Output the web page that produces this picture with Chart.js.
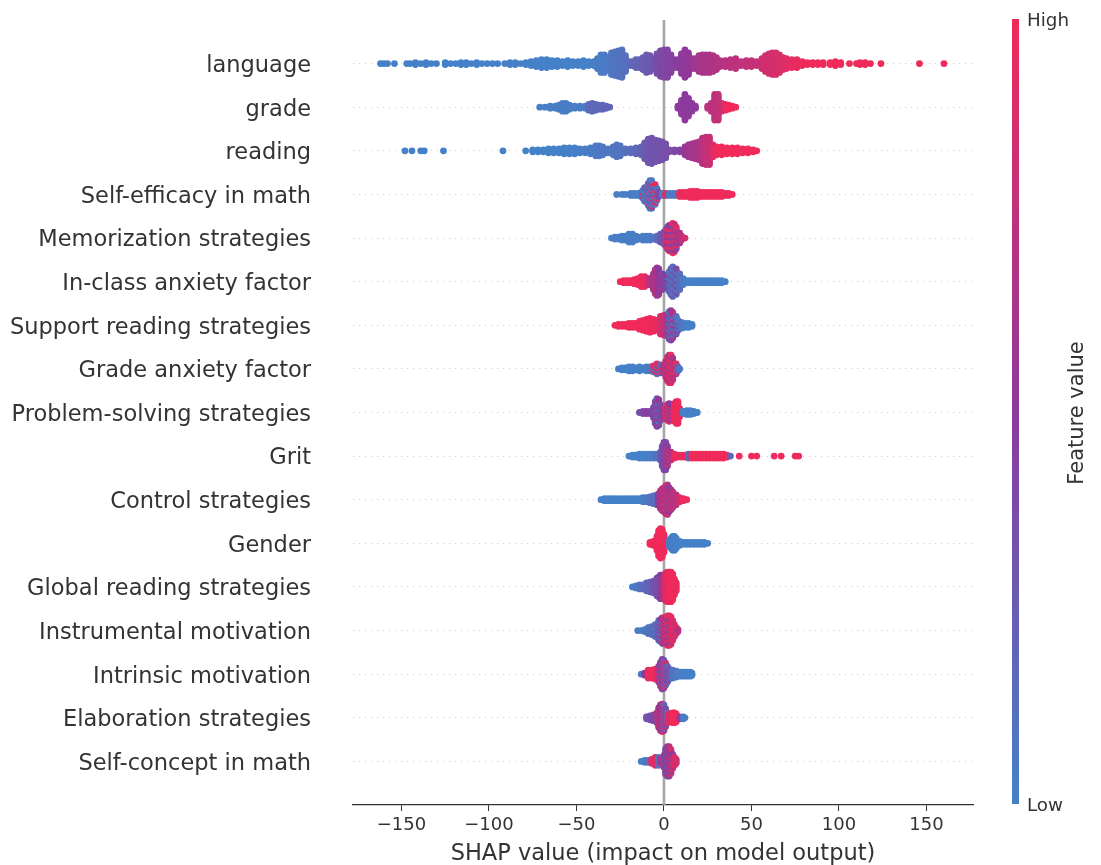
<!DOCTYPE html>
<html lang="en">
<head>
    <meta charset="UTF-8">
    <title>SHAP summary plot</title>
    <script src="https://cdn.jsdelivr.net/npm/chart.js"></script>
    <style>
        body {
            margin: 0;
            background-color: #ffffff;
        }
        canvas {
            display: block;
            filter: blur(0.7px);
        }
    </style>
</head>
<body>
<canvas id="shapChart" width="1101" height="865"></canvas>

<script>
    // top of the plot first
    const features = [
        "language", "grade", "reading", "Self-efficacy in math", "Memorization strategies",
        "In-class anxiety factor", "Support reading strategies", "Grade anxiety factor",
        "Problem-solving strategies", "Grit", "Control strategies", "Gender",
        "Global reading strategies", "Instrumental motivation", "Intrinsic motivation",
        "Elaboration strategies", "Self-concept in math"
    ];
    const xTicks = [-150, -100, -50, 0, 50, 100, 150];

    // every bin: [shap value, number of dots, feature value(s) 0..1]
    const language = [
        [-162,1,0],[-160,1,0],[-158,1,0],[-154,1,0],[-147,1,0],[-145,1,0],[-142,2,0],[-139,1,0],[-136,2,0],[-133,1,0],[-130,1,0],
        [-125,2,0],[-122,1,0],[-119,1,0],[-116,2,0],[-113,2,0],[-110,1,0],[-107,2,0],[-104,1,0],[-101,1,0],[-98,1,0],[-95,1,0],
        [-91,1,0],[-88,2,0],[-85,2,0],[-82,1,0],[-79,2,0],[-76,3,0],[-73,4,0],[-70,5,0],[-67,5,0],[-64,4,0],[-61,4,0],[-58,3,0],
        [-55,4,0],[-52,3,0],[-49,3,0],[-46,4,0],[-43,3,0],[-40,3,.02],[-38,6,.03],[-36,10,.03],[-34,10,.05],[-32,7,.05],
        [-30,12,.07],[-28,13,.08],[-26,14,.1],[-24,15,.1],[-22,9,.12],[-20,3,.15],[-18,3,.18],[-16,5,.2],[-14,5,.22],[-12,7,.25],
        [-10,10,.26],[-8,9,.28],[-6,6,.3],[-4,11,.36],[-2,14,.4],[0,15,.4],[2,15,.42],[4,10,.44],[6,5,.46],[8,5,.48],[10,11,.5],
        [12,15,.52],[14,12,.52],[16,6,.56],[18,6,.6],[20,9,.62],[22,10,.64],[24,10,.64],[26,10,.66],[28,9,.68],[30,7,.68],
        [32,4,.7],[35,4,.72],[38,5,.74],[41,6,.74],[44,3,.76],[47,4,.76],[50,4,.78],[53,3,.78],[56,6,.82],[58,9,.84],[60,11,.84],
        [62,12,.85],[64,12,.86],[66,10,.88],[68,7,.9],[70,6,.92],[73,5,.95],[76,5,.96],[79,3,.98],[82,2,1],[85,2,1],[88,2,1],
        [91,2,1],[95,2,1],[98,3,1],[101,2,1],[106,1,1],[110,1,1],[112,2,1],[115,2,1],[118,1,1],[124,1,1],[146,1,1],[160,1,1]
    ];
    const grade = [
        [-71,1,.02],[-68,1,.02],[-65,2,.02],[-62,2,.02],[-60,3,.02],[-58,5,.02],[-56,5,.03],[-54,3,.03],[-51,2,.03],[-48,2,.03],[-45,2,.05],
        [-43,4,.16],[-41,5,.18],[-39,4,.18],[-37,3,.18],[-35,3,.2],[-33,2,.2],[-31,1,.2],
        [8,2,.5],[10,8,.5],[12,14,.5],[14,10,.5],[16,5,.5],[18,2,.5],
        [25,2,.74],[27,5,.74],[29,14,.74],[31,14,.76],[33,5,.8],[35,4,.95],[37,3,1],[39,2,1],[41,1,1]
    ];
    const reading = [
        [-148,1,0],[-144,1,0],[-139,1,0],[-137,1,0],[-126,1,0],[-92,1,0],[-79,1,0],
        [-75,2,0],[-72,2,0],[-69,2,0],[-66,3,0],[-63,3,0],[-60,3,0],[-57,4,0],[-54,4,0],[-51,4,0],[-48,3,.02],[-45,3,.02],[-42,4,.04],
        [-39,6,.05],[-37,6,.06],[-35,5,.06],[-32,3,.07],[-29,5,.08],[-27,7,.09],[-25,6,.1],[-22,3,.12],[-19,3,.14],[-16,4,.18],[-13,5,.22],
        [-11,9,.26],[-9,13,.3],[-7,14,.32],[-5,12,.32],[-3,11,.32],[-1,10,.34],[1,8,.34],[3,2,.36],[6,2,.4],[9,2,.44],[12,5,.56],[14,7,.6],
        [16,8,.62],[18,9,.64],[20,10,.66],[22,14,.72],[24,15,.76],[26,15,.8],[28,7,.9],[30,5,.98],[33,5,1],[36,4,1],[39,4,1],[42,4,1],
        [45,3,1],[48,3,1],[51,2,1],[53,1,1]
    ];
    const selfEfficacy = [
        [-27,1,.02],[-24,1,.02],[-22,1,.02],[-19,2,.02],[-17,2,.02],[-15,2,.02],[-13,3,.05],[-12,5,[.05,.9]],[-11,8,[.1,.2,.05]],[-9,12,[.05,.98,.2]],
        [-8,15,[.05,.3,.1]],[-7,15,[.1,.9,.05,.3]],[-5,11,[.05,.98,.3]],[-4,7,[.1,.95]],[-3,3,.4],[-1,2,.05],[1,2,.9],[3,2,.05],[5,2,.05],[7,2,.05],
        [9,3,.98],[11,3,.98],[13,3,.98],[15,4,1],[17,4,1],[19,4,1],[21,3,1],[23,3,1],[25,3,1],[27,3,1],[29,3,1],[31,3,1],[33,3,1],[35,2,1],[37,2,1],[39,1,1]
    ];
    const memorization = [
        [-30,1,.02],[-28,2,.02],[-26,2,.02],[-24,3,.02],[-22,3,.02],[-20,5,.02],[-18,5,.03],[-16,3,.03],[-14,2,.03],[-12,3,.03],[-10,3,.03],[-8,3,.05],[-6,2,.06],
        [-4,3,.15],[-2,5,.28],[0,7,.35],[1,9,[.3,.9]],[2,12,[.5,.95,.4]],[3,14,[.9,.5,.95]],[5,16,[.95,.6,.3]],[6,15,[.95,.5,.8]],[7,12,[.6,.4,.9]],[9,6,[.55,.7]],[10,3,.75],[12,1,.85]
    ];
    const inClass = [
        [-25,1,1],[-23,2,1],[-21,2,1],[-19,2,1],[-17,3,1],[-15,4,1],[-13,6,.98],[-11,6,.95],[-9,4,.8],[-7,5,.7],
        [-6,9,.6],[-5,13,[.6,.75]],[-4,15,[.55,.8,.6]],[-3,14,[.6,.5]],[-1,9,[.5,.7,.4]],[1,8,[.3,.5]],[3,11,[.2,.05,.5]],[4,14,[.05,.3,.2]],[5,16,[.15,.35,.05]],[7,14,[.08,.4,.2]],[9,9,.15],[11,4,.05],
        [13,2,0],[15,2,0],[17,2,0],[19,2,0],[21,2,0],[23,2,0],[25,2,0],[27,2,0],[29,2,0],[31,2,0],[33,2,0],[35,1,0]
    ];
    const supportReading = [
        [-28,1,1],[-26,2,1],[-24,2,1],[-22,2,1],[-20,3,1],[-18,3,1],[-16,3,1],[-14,5,1],[-12,6,1],[-10,7,1],[-8,8,1],[-6,7,1],
        [-4,6,.95],[-2,10,.85],[0,11,.8],[1,10,.75],[2,12,[.6,.7]],[3,15,[.4,.55,.1]],[4,16,[.45,.3,.1]],[5,14,[.4,.7,.05]],[7,10,[.4,.15]],[8,6,[.35,.05]],[10,4,.1],
        [12,3,.02],[14,3,0],[16,2,0]
    ];
    const gradeAnxiety = [
        [-26,1,0],[-24,2,0],[-22,2,0],[-20,3,0],[-18,3,0],[-16,2,0],[-14,3,0],[-12,2,.02],[-10,3,.03],[-8,3,.05],
        [-6,4,[.1,.95]],[-4,6,[.15,.9]],[-2,5,[.2,.95]],[0,5,.6],[1,9,[.9,.7]],[2,13,[.95,.7,.5]],[3,15,[.95,.75,.55]],[4,15,[.9,.7,1]],[5,12,[.9,.65]],[7,6,[.7,.95]],[8,3,.2],[9,1,.05]
    ];
    const problemSolving = [
        [-14,1,.35],[-12,2,.4],[-10,2,.45],[-8,2,.45],[-6,6,.4],[-5,12,[.45,.3]],[-4,15,[.45,.6,.25]],[-3,14,[.35,.55,.1]],[-2,9,.4],[0,5,.5],[1,7,.85],
        [2,9,[.95,.6]],[3,10,[.9,.5]],[5,5,[.6,.9]],[6,10,1],[7,12,[1,.9]],[8,12,1],[9,5,.98],[11,2,0],[13,3,0],[15,3,0],[17,2,0],[19,1,0]
    ];
    const grit = [
        [-20,1,0],[-18,2,0],[-16,2,0],[-14,3,0],[-12,3,0],[-10,3,0],[-8,3,.02],[-6,3,.05],[-4,3,.1],[-2,5,.25],[-1,11,.35],[0,15,.4],[1,15,.42],[2,11,[.45,.8]],
        [4,5,.7],[6,3,.95],[8,2,1],[10,2,1],[12,2,.95],[14,3,.2],[16,3,1],[18,3,1],[20,3,1],[22,3,1],[24,3,1],[26,3,1],[28,3,1],[30,3,1],[32,3,1],[34,3,1],[36,2,1],[38,1,.2],
        [43,1,1],[50,1,1],[53,1,1],[63,1,1],[67,1,1],[75,1,1],[77,1,1]
    ];
    const control = [
        [-36,1,0],[-34,2,0],[-32,2,0],[-30,2,0],[-28,2,0],[-26,2,0],[-24,2,0],[-22,2,0],[-20,2,0],[-18,2,0],[-16,2,0],[-14,2,0],[-12,3,.02],[-10,3,.05],[-8,4,.1],[-6,5,.15],[-4,6,.15],
        [-3,7,.5],[-2,10,[.55,.75]],[-1,12,[.6,.8]],[0,13,[.7,.9,.5]],[1,15,[.75,.5,.95]],[2,16,[.7,.9,.45]],[3,13,[.5,.8]],[4,11,[.6,.85]],[5,9,.7],[7,6,.75],[9,3,.85],[11,2,1],[13,1,1]
    ];
    const gender = [
        [-8,2,1],[-6,3,1],[-4,8,1],[-3,14,1],[-2,16,1],[-1,15,1],[0,10,1],
        [3,4,.05],[4,6,.02],[5,8,.02],[6,8,.02],[7,6,0],[9,3,0],[11,2,0],[13,2,0],[15,2,0],[17,2,0],[19,2,0],[21,2,0],[23,2,0],[25,1,0]
    ];
    const globalReading = [
        [-18,1,.02],[-16,2,.05],[-14,3,.1],[-12,3,.15],[-10,5,.18],[-8,6,.22],[-6,7,.3],[-4,10,.35],[-3,11,[.4,.25]],[-2,13,[.45,.6]],[-1,13,[.5,.7]],[0,11,[.55,.8]],
        [1,15,.9],[2,16,[1,.85]],[3,16,[1,.95]],[4,16,1],[5,14,1],[6,9,1],[7,5,.95]
    ];
    const instrumental = [
        [-15,1,.02],[-13,1,.02],[-11,2,.05],[-9,4,.1],[-7,5,.12],[-5,7,.15],[-3,11,[.15,.4]],[-2,12,[.1,.5]],[-1,14,[.3,.6,.1]],[0,14,[.5,.9]],
        [1,14,[.95,.6]],[2,16,[.95,.5,1]],[3,16,[.9,.6,.4]],[4,15,[.95,.7]],[5,11,.9],[6,7,.85],[7,4,.9],[8,2,.7]
    ];
    const intrinsic = [
        [-13,1,.05],[-11,2,.5],[-9,5,.95],[-7,5,1],[-5,6,.95],[-3,9,[.5,.9]],[-2,13,[.45,.95,.3]],[-1,16,[.45,.6,.35]],[0,15,[.4,.9,.3]],[1,12,[.25,.85]],[2,9,[.2,.5]],[3,6,.3],[5,5,.1],
        [7,4,.05],[9,3,.02],[11,3,.02],[13,3,0],[15,3,0],[16,2,0]
    ];
    const elaboration = [
        [-10,2,.3],[-8,3,.35],[-6,4,.4],[-4,6,[.4,.7]],[-3,11,[.6,.8]],[-2,14,[.7,.5]],[-1,15,[.85,.55]],[0,14,[.75,.2]],[1,10,[.7,.35]],[2,6,[.85,.1]],[3,5,.9],[5,6,1],[6,6,1],[7,5,1],[9,2,.6],[11,2,.05],[12,1,.02]
    ];
    const selfConcept = [
        [-13,1,0],[-11,2,.02],[-9,2,.1],[-7,3,.95],[-5,5,.9],[-3,5,.1],[-2,3,.7],[0,7,[.7,.3]],[1,14,[.5,.35]],[2,16,[.45,.55,.3]],[3,16,[.4,.7]],[4,13,[.85,.45]],[5,8,[.9,.5]],[6,5,.9],[7,3,.85]
    ];
    const rows = [
        language, grade, reading, selfEfficacy, memorization, inClass, supportReading, gradeAnxiety,
        problemSolving, grit, control, gender, globalReading, instrumental, intrinsic, elaboration, selfConcept
    ];

    const colorStops = [[69, 129, 200], [140, 58, 156], [240, 42, 90]];

    function valueColor(v) {
        const t = v * 2;
        const i = t >= 1 ? 1 : 0;
        const f = t - i;
        const c = colorStops[i].map((a, k) => Math.round(a + (colorStops[i + 1][k] - a) * f));
        return `rgb(${c[0]},${c[1]},${c[2]})`;
    }

    // stack the dots of every bin around its row, like the beeswarm does
    const DOT_STEP = 0.045;
    const dots = [];
    const dotColors = [];
    rows.forEach((bins, r) => {
        const rowY = features.length - 1 - r;
        bins.forEach(([x, n, c]) => {
            for (let k = 0; k < n; k++) {
                const level = k - (n - 1) / 2;
                dots.push({ x, y: rowY + level * DOT_STEP });
                dotColors.push(valueColor(Array.isArray(c) ? c[k % c.length] : c));
            }
        });
    });

    // colour bar with its labels, to the right of the axes
    const colorBar = {
        id: "colorBar",
        afterDraw(chart) {
            const ctx = chart.ctx;
            const grad = ctx.createLinearGradient(0, 19, 0, 804);
            grad.addColorStop(0, valueColor(1));
            grad.addColorStop(0.5, valueColor(0.5));
            grad.addColorStop(1, valueColor(0));
            ctx.save();
            ctx.fillStyle = grad;
            ctx.fillRect(1012, 19, 7, 785);
            ctx.fillStyle = "#333333";
            ctx.font = '18.3px "DejaVu Sans"';
            ctx.textBaseline = "middle";
            ctx.textAlign = "left";
            ctx.fillText("High", 1027, 21);
            ctx.fillText("Low", 1027, 806);
            ctx.translate(1078, 413);
            ctx.rotate(-Math.PI / 2);
            ctx.textAlign = "center";
            ctx.font = '21px "DejaVu Sans"';
            ctx.fillText("Feature value", 0, 0);
            ctx.restore();
        }
    };

    new Chart(document.getElementById("shapChart").getContext("2d"), {
        type: "scatter",
        data: {
            datasets: [
                {
                    label: "SHAP",
                    data: dots,
                    pointRadius: 3.4,
                    pointHoverRadius: 3.4,
                    pointBorderWidth: 0,
                    pointBackgroundColor: dotColors,
                    order: 1
                },
                {
                    label: "zero",
                    data: [{ x: 0, y: -1 }, { x: 0, y: 17 }],
                    showLine: true,
                    borderColor: "#a6a6a6",
                    borderWidth: 2.6,
                    pointRadius: 0,
                    order: 2
                }
            ]
        },
        options: {
            responsive: false,
            animation: false,
            layout: { padding: { top: 20, right: 128, bottom: 0, left: 0 } },
            plugins: {
                legend: { display: false },
                tooltip: { enabled: false }
            },
            scales: {
                x: {
                    type: "linear",
                    min: -177.7,
                    max: 176.6,
                    afterBuildTicks: (scale) => { scale.ticks = xTicks.map(value => ({ value })); },
                    afterFit: (scale) => { scale.height = 60; scale.paddingLeft = 0; scale.paddingRight = 0; },
                    grid: { drawOnChartArea: false, color: "#333333", tickLength: 6 },
                    border: { color: "#333333", width: 1.3 },
                    ticks: {
                        color: "#333333",
                        font: { family: "DejaVu Sans", size: 18 },
                        padding: 4,
                        maxRotation: 0,
                        callback: (v) => String(v).replace("-", "\u2212")
                    },
                    title: {
                        display: true,
                        text: "SHAP value (impact on model output)",
                        color: "#333333",
                        font: { family: "DejaVu Sans", size: 22.5 },
                        padding: { top: 0, bottom: -3 }
                    }
                },
                y: {
                    type: "linear",
                    min: -1,
                    max: 17,
                    afterBuildTicks: (scale) => { scale.ticks = features.map((_, i) => ({ value: i })); },
                    afterFit: (scale) => { scale.width = 353; scale.paddingTop = 0; scale.paddingBottom = 0; },
                    border: { display: false, dash: [1, 5] },
                    grid: { color: "#cccccc", tickLength: 0, lineWidth: 1 },
                    ticks: {
                        color: "#333333",
                        font: { family: "DejaVu Sans", size: 22.5 },
                        padding: 42,
                        labelOffset: 2.5,
                        callback: (v) => features[features.length - 1 - v]
                    }
                }
            }
        },
        plugins: [colorBar]
    });
</script>
</body>
</html>
